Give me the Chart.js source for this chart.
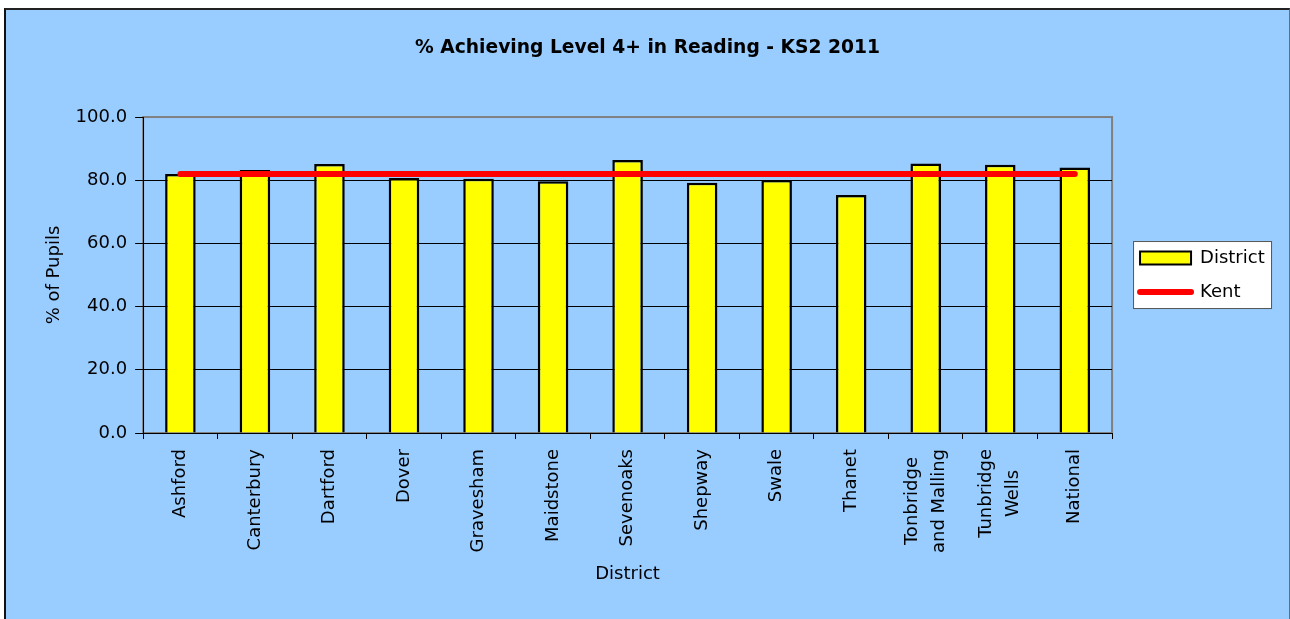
<!DOCTYPE html>
<html>
<head>
<meta charset="utf-8">
<script src="https://cdn.jsdelivr.net/npm/chart.js@4"></script>
<style>
  body { margin: 0; background: #fff; }
  #wrap {
    position: absolute; left: 4px; top: 8px;
    width: 1283px; height: 609px;
    border-left: 2px solid #111; border-top: 2px solid #222; border-right: 1px solid #4f7393;
    background: #99ccff;
  }
</style>
</head>
<body>
<div id="wrap"><canvas id="ks2_reading" width="1283" height="609"></canvas></div>
<script>
Chart.defaults.font.family = "DejaVu Sans";
Chart.defaults.font.size = 18;
Chart.defaults.color = '#000';

// categories (wrapped names are arrays, one entry per line)
const districts = ['Ashford', 'Canterbury', 'Dartford', 'Dover', 'Gravesham', 'Maidstone',
    'Sevenoaks', 'Shepway', 'Swale', 'Thanet', ['Tonbridge', 'and Malling'],
    ['Tunbridge', 'Wells'], 'National'];
const districtValues = [82.0, 83.2, 85.1, 80.7, 80.5, 79.7, 86.4, 79.2, 80.1, 75.3, 85.3, 84.9, 84.0];
const kentValues = [82.0, 82.0, 82.0, 82.0, 82.0, 82.0, 82.0, 82.0, 82.0, 82.0, 82.0, 82.0, 82.0];
const yMin = 0;
const yMax = 100;
const yStep = 20;

// white legend box + grey plot frame, and Excel-style centred wrapped labels
const excelLook = {
    id: 'excelLook',
    afterLayout(chart) {
        chart.legend.left += 12;
        chart.legend.right += 12;
        // centre the title over the whole canvas, not just the padded area
        chart.titleBlock.left += 26.3;
    },
    beforeDraw(chart) {
        const ctx = chart.ctx;
        const area = chart.chartArea;
        const legend = chart.legend;
        const mid = (legend.top + legend.bottom) / 2;
        ctx.save();
        ctx.fillStyle = '#fff';
        ctx.fillRect(legend.left + 9, mid - 34, 138, 67);
        ctx.strokeStyle = '#555';
        ctx.lineWidth = 1;
        ctx.strokeRect(legend.left + 9.5, mid - 33.5, 138, 67);
        ctx.strokeStyle = '#808080';
        ctx.lineWidth = 2;
        ctx.strokeRect(area.left, area.top, area.right - area.left, area.bottom - area.top);

        const scale = chart.scales.x;
        const f = scale.options.ticks.font;
        const lh = f.size * f.lineHeight;
        ctx.font = f.size + 'px ' + f.family;
        scale.getLabelItems(area).forEach((item) => {
            if (!Array.isArray(item.label) || item.centred) return;
            const widest = Math.max(...item.label.map((s) => ctx.measureText(s).width));
            item.options.translation[0] -= (item.label.length - 1) * lh / 2;
            item.options.translation[1] += widest / 2;
            item.options.textAlign = 'center';
            item.centred = true;
        });
        ctx.restore();
    }
};

function reading_chart() {
    const ctx = document.getElementById('ks2_reading').getContext('2d');
    new Chart(ctx, {
        type: 'bar',
        data: {
            labels: districts,
            datasets: [{
                label: 'District',
                data: districtValues,
                backgroundColor: '#ffff00',
                borderColor: '#000',
                borderWidth: 2.5,
                barPercentage: 0.41,
                categoryPercentage: 1,
                order: 1
            }, {
                type: 'line',
                label: 'Kent',
                data: kentValues,
                borderColor: '#ff0000',
                backgroundColor: '#ff0000',
                borderWidth: 6,
                borderCapStyle: 'round',
                pointRadius: 0,
                fill: false,
                order: 0
            }]
        },
        options: {
            responsive: false,
            animation: false,
            events: [],
            layout: {
                padding: {left: 0, right: 26.3, top: 0, bottom: 33.4}
            },
            scales: {
                x: {
                    offset: true,
                    grid: {
                        offset: true,
                        drawOnChartArea: false,
                        color: '#000',
                        tickLength: 6
                    },
                    border: {color: '#000', width: 1},
                    ticks: {
                        autoSkip: false,
                        maxRotation: 90,
                        minRotation: 90,
                        padding: 10,
                        font: {size: 18, lineHeight: 1.5}
                    },
                    title: {
                        display: true,
                        text: 'District',
                        padding: {top: 1, bottom: 0}
                    }
                },
                y: {
                    min: yMin,
                    max: yMax,
                    grid: {
                        color: (c) => (c.tick && c.tick.value === yMax) ? 'rgba(0,0,0,0)' : '#000',
                        tickColor: '#000',
                        tickLength: 8
                    },
                    border: {color: '#000', width: 1},
                    ticks: {
                        stepSize: yStep,
                        padding: 8,
                        callback: (v) => v.toFixed(1)
                    },
                    title: {
                        display: true,
                        text: '% of Pupils',
                        padding: {top: 38, bottom: 2}
                    }
                }
            },
            plugins: {
                title: {
                    display: true,
                    text: '% Achieving Level 4+ in Reading - KS2 2011',
                    font: {size: 18.7, weight: 'bold'},
                    padding: {top: 26.8, bottom: 57.8}
                },
                legend: {
                    position: 'right',
                    fullSize: false,
                    labels: {
                        usePointStyle: true,
                        pointStyleWidth: 51,
                        boxHeight: 13,
                        padding: 16,
                        font: {size: 18},
                        sort: (a, b) => a.datasetIndex - b.datasetIndex,
                        generateLabels: (chart) => chart.data.datasets.map((ds, i) => ({
                            text: ds.label,
                            datasetIndex: i,
                            pointStyle: ds.type === 'line' ? 'line' : 'rect',
                            fillStyle: ds.backgroundColor,
                            strokeStyle: ds.borderColor,
                            lineWidth: ds.type === 'line' ? ds.borderWidth : 2,
                            lineCap: 'round',
                            fontColor: '#000',
                            hidden: false
                        }))
                    }
                },
                tooltip: {enabled: false}
            }
        },
        plugins: [excelLook]
    });
}

reading_chart();
</script>
</body>
</html>
